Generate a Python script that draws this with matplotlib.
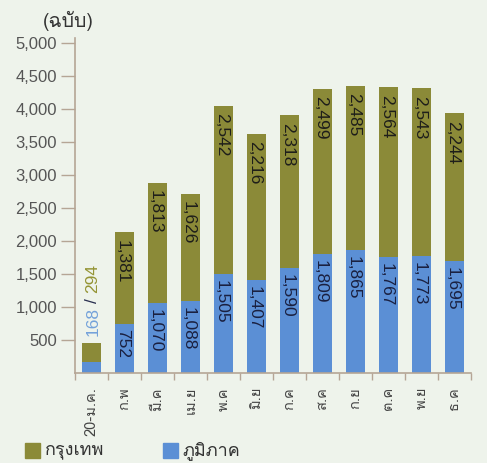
import matplotlib
matplotlib.use("Agg")
import matplotlib.pyplot as plt
from matplotlib import font_manager
from matplotlib.patches import Rectangle
import numpy as np

categories = ["20-ม.ค.", "ก.พ", "มี.ค", "เม.ย", "พ.ค", "มิ.ย", "ก.ค", "ส.ค", "ก.ย", "ต.ค", "พ.ย", "ธ.ค"]
region = [168, 752, 1070, 1088, 1505, 1407, 1590, 1809, 1865, 1767, 1773, 1695]
bangkok = [294, 1381, 1813, 1626, 2542, 2216, 2318, 2499, 2485, 2564, 2543, 2244]
yticks = [500, 1000, 1500, 2000, 2500, 3000, 3500, 4000, 4500, 5000]
series_names = ["กรุงเทพ", "ภูมิภาค"]
unit_label = "(ฉบับ)"

# find a Thai-capable font
thai = []
for f in font_manager.fontManager.ttflist:
    n = f.name
    if any(k in n for k in ["Thai", "Loma", "Garuda", "Kinnari", "Norasi", "Sarabun", "Waree", "Umpush", "Tlwg", "Laksaman"]):
        if n not in thai:
            thai.append(n)
fam = thai + ["Noto Sans", "DejaVu Sans"]
plt.rcParams['font.family'] = fam
NUM = ["Liberation Sans", "DejaVu Sans"]

BG = "#eef3eb"
OLIVE = "#8b8a38"
BLUE = "#5b8fd5"
AX = "#b5a595"

fig = plt.figure(figsize=(4.87, 4.63), dpi=100, facecolor=BG)
ax = fig.add_axes([0.154, 0.194, 0.813, 0.724])
ax.set_facecolor(BG)

x = np.arange(len(categories))
ax.bar(x, region, width=0.6, color=BLUE, zorder=2)
ax.bar(x, bangkok, width=0.6, bottom=region, color=OLIVE, zorder=2)

ax.set_xlim(-0.5, len(categories) - 0.5)
ax.set_ylim(0, 5080)

for s in ["top", "right"]:
    ax.spines[s].set_visible(False)
ax.spines["left"].set_color(AX)
ax.spines["bottom"].set_color(AX)
ax.spines["left"].set_linewidth(1.2)
ax.spines["bottom"].set_linewidth(1.2)

ax.set_yticks(yticks)
ax.set_yticklabels([f"{v:,}" for v in yticks], fontsize=12, color="#555555", family=NUM)
ax.tick_params(axis="y", length=10, width=1, color=AX, pad=3)

ax.set_xticks(x)
ax.set_xticklabels(categories, rotation=90, fontsize=10.5, color="#444444")
ax.tick_params(axis="x", which="major", length=0, pad=10)
ax.set_xticks(np.arange(-0.5, len(categories), 1.0), minor=True)
ax.tick_params(axis="x", which="minor", length=5, width=1, color=AX)

# labels inside bars
dx = -0.06
for i in range(1, len(categories)):
    ax.text(x[i] + dx, region[i] - 90, f"{region[i]:,}", rotation=270, ha="center", va="top",
            fontsize=12.5, color="#1a2040", zorder=3, family=NUM)
    top = region[i] + bangkok[i]
    ax.text(x[i] + dx, top - 110, f"{bangkok[i]:,}", rotation=270, ha="center", va="top",
            fontsize=12.5, color="#1e1e1a", zorder=3, family=NUM)

# first bar label above
ax.text(x[0] + 0.04, 560, f"{region[0]}", rotation=90, ha="center", va="bottom", fontsize=12.5,
        color="#74a2da", family=NUM)
ax.text(x[0] + 0.04, 1070, "/", rotation=90, ha="center", va="bottom", fontsize=12.5,
        color="#2a3050", family=NUM)
ax.text(x[0] + 0.04, 1210, f"{bangkok[0]}", rotation=90, ha="center", va="bottom", fontsize=12.5,
        color="#949434", family=NUM)

fig.text(0.088, 0.955, unit_label, fontsize=14, color="#333333", ha="left", va="center")

# legend
fig.add_artist(Rectangle((0.051, 0.011), 0.031, 0.033, transform=fig.transFigure, color=OLIVE))
fig.text(0.092, 0.028, series_names[0], fontsize=13, color="#333333", va="center")
fig.add_artist(Rectangle((0.335, 0.011), 0.031, 0.033, transform=fig.transFigure, color=BLUE))
fig.text(0.374, 0.028, series_names[1], fontsize=13, color="#333333", va="center")

fig.savefig("out.png", dpi=100, facecolor=BG)
